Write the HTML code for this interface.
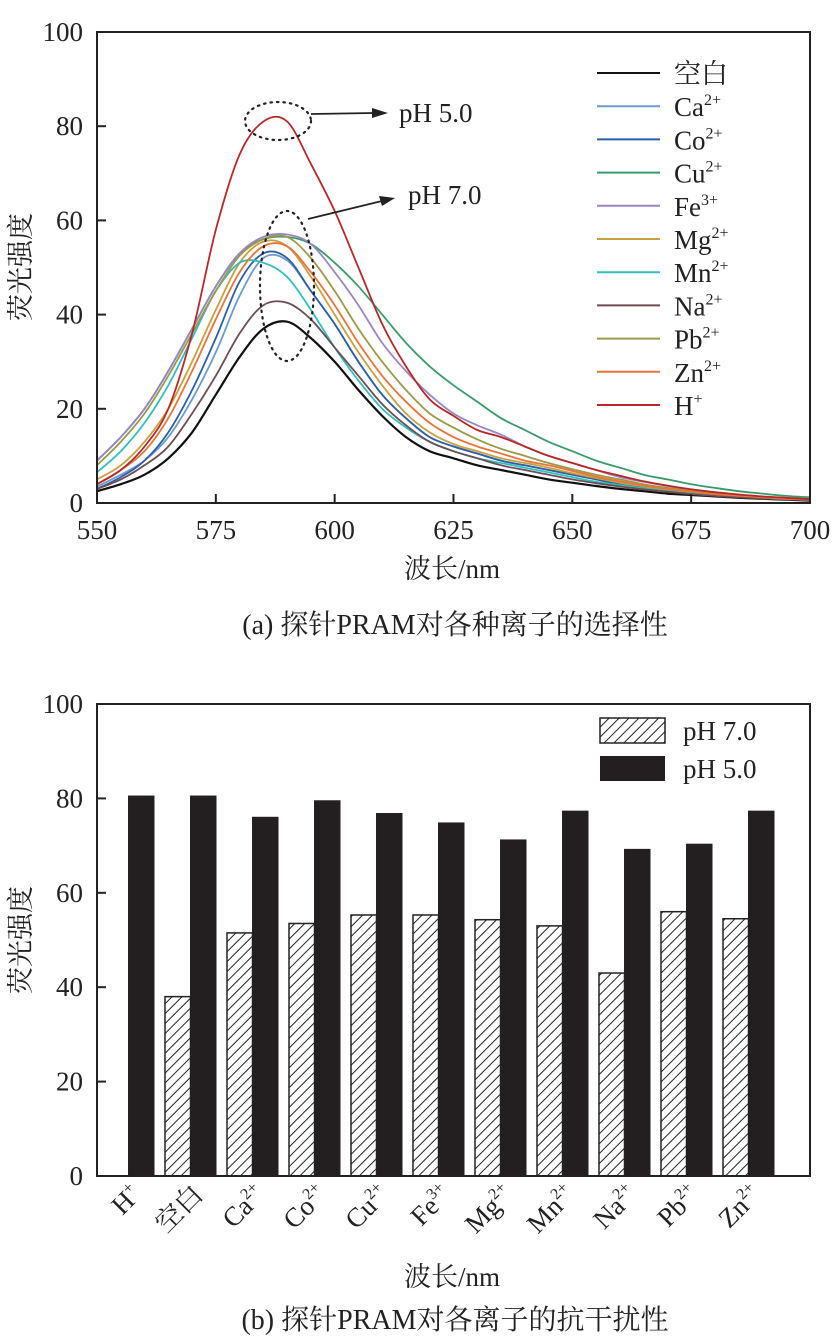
<!DOCTYPE html>
<html><head><meta charset="utf-8"><style>
html,body{margin:0;padding:0;background:#fff;}
svg{display:block;font-family:"Liberation Serif","Noto Serif CJK SC",serif;}
</style></head><body>
<svg id="s" width="836" height="1339" viewBox="0 0 836 1339" xmlns="http://www.w3.org/2000/svg">
<defs>
<pattern id="hatch" patternUnits="userSpaceOnUse" width="7" height="7" patternTransform="rotate(45)">
<rect width="7" height="7" fill="#fff"/><line x1="0" y1="0" x2="0" y2="7" stroke="#222" stroke-width="2"/>
</pattern>
</defs>
</svg>
<script>
const wav=[550,555,560,565,570,575,580,585,590,595,600,605,610,615,620,625,630,635,640,645,650,655,660,665,670,675,680,685,690,695,700];
const seriesNames=["空白","Ca","Co","Cu","Fe","Mg","Mn","Na","Pb","Zn","H"];
const sups=["","2+","2+","2+","3+","2+","2+","2+","2+","2+","+"];
const colors=["#111","#6a9ccc","#2c5fa8","#3a9a6a","#9a86c4","#c8a040","#2fbfc0","#6e4e52","#9a9a4a","#e8743a","#b82828"];
const sBlank=[2.5,4,6,9.5,15,23,31,37,38.5,35,30,24,18.5,14,11,9.5,8,7,6,5,4.3,3.6,3,2.5,2,1.7,1.4,1.1,0.9,0.7,0.5];
const sCa=[3.5,6,9,14,22,32,44,52,51.5,45,38,30,23,18,14,12,10.5,9,8,7,6,5,4,3.3,2.7,2.2,1.8,1.4,1.1,0.9,0.7];
const sCo=[3,5.5,9,15,24,35,47,53,52,45,38,30,23,18,14,12,10.5,9,8,7,6,5,4,3.3,2.7,2.2,1.8,1.4,1.1,0.9,0.7];
const sCu=[9,14,20,28,37,46,53,56,56.5,55,51,46,40,34,29,25,21.5,18,15.5,13,11,9,7.5,6,5,4,3.2,2.5,2,1.5,1.2];
const sFe=[9,14,20,28,37,46,53,56.5,57,55,49,42,34,28,23,19,16.5,14.5,12,10,8.5,7,5.5,4.5,3.6,2.8,2.2,1.7,1.3,1,0.8];
const sMg=[5,8,13,20,30,41,51,55.5,54.5,48,40,32,25,19,15,12.5,11,9.5,8.5,7.5,6.3,5.3,4.3,3.5,2.8,2.2,1.8,1.4,1.1,0.9,0.7];
const sMn=[6.5,11,17,25,35,45,51,51,48,41,33,26,20,16,13,11,9.5,8.5,7.5,6.5,5.5,4.5,3.8,3.1,2.5,2,1.6,1.3,1,0.8,0.6];
const sNa=[3,5,8,12,19,27,36,42,42.5,39,33,27,21,16.5,13,11,9.5,8,7,6,5,4.2,3.5,2.9,2.4,1.9,1.5,1.2,1,0.8,0.6];
const sPb=[8,13,19,27,36,45,52.5,56,56.5,52,45,37,30,24,19,16,13.5,11.5,10,8.5,7.2,6,5,4,3.2,2.6,2.1,1.6,1.3,1,0.8];
const sZn=[4,7,11,18,28,39,49,54.5,54.5,49,42,34,27,21.5,17,14,12,10.5,9,8,6.8,5.6,4.6,3.7,3,2.4,1.9,1.5,1.2,0.9,0.7];
const sH=[4,7,12,20,36,58,74,81,81,72,62,50,38,29,22,18.5,15.5,14,12,10,8.5,7,5.8,4.6,3.7,2.9,2.3,1.8,1.4,1.1,0.8];
const allSeries=[sBlank,sCa,sCo,sCu,sFe,sMg,sMn,sNa,sPb,sZn,sH];
const xTicks=[550,575,600,625,650,675,700];
const yTicks=[0,20,40,60,80,100];
const barCats=["H","空白","Ca","Co","Cu","Fe","Mg","Mn","Na","Pb","Zn"];
const barSups=["+","","2+","2+","2+","3+","2+","2+","2+","2+","2+"];
const ph7=[0,38,51.5,53.5,55.3,55.3,54.3,53,43,56,54.5];
const ph5=[80.5,80.5,76,79.5,76.8,74.8,71.2,77.3,69.2,70.3,77.3];

const NS="http://www.w3.org/2000/svg";
const svg=document.getElementById('s');
function mk(tag,attrs,parent,txt){const e=document.createElementNS(NS,tag);for(const k in attrs)e.setAttribute(k,attrs[k]);if(txt!==undefined)e.textContent=txt;(parent||svg).appendChild(e);return e;}
function smooth(P){let d='M'+P[0][0].toFixed(1)+','+P[0][1].toFixed(1);for(let i=0;i<P.length-1;i++){const p0=P[i-1]||P[i],p1=P[i],p2=P[i+1],p3=P[i+2]||p2;const c1=[p1[0]+(p2[0]-p0[0])/6,p1[1]+(p2[1]-p0[1])/6],c2=[p2[0]-(p3[0]-p1[0])/6,p2[1]-(p3[1]-p1[1])/6];d+='C'+c1.map(v=>v.toFixed(1))+' '+c2.map(v=>v.toFixed(1))+' '+p2.map(v=>v.toFixed(1));}return d;}
const L=97,R=810;
const FS=27;
// chart A
const aT=32,aB=503;
const ax=v=>L+(v-550)/150*(R-L);
const ay=v=>aB-v/100*(aB-aT);
const gA=mk('g',{});


allSeries.forEach((s,i)=>{
  const P=s.map((v,j)=>[ax(wav[j]),ay(v)]);
  const p=mk('path',{d:smooth(P),fill:'none',stroke:colors[i],'stroke-width':i==0?2.2:1.8,'stroke-linejoin':'round'},gA);
  
  
});
const frA=mk('rect',{x:L,y:aT,width:R-L,height:aB-aT,fill:'none',stroke:'#222','stroke-width':2},gA);


xTicks.forEach(t=>{
  mk('line',{x1:ax(t),x2:ax(t),y1:aB,y2:aB-9,stroke:'#222','stroke-width':2},gA);
  const tx=mk('text',{x:ax(t),y:aB+36,'text-anchor':'middle','font-size':FS,fill:'#222'},gA,t);
  
  
});
yTicks.forEach(t=>{
  mk('line',{x1:L,x2:L+9,y1:ay(t),y2:ay(t),stroke:'#222','stroke-width':2},gA);
  const tx=mk('text',{x:L-14,y:ay(t)+9,'text-anchor':'end','font-size':FS,fill:'#222'},gA,t);
  
  
});
seriesNames.forEach((n,i)=>{
  const y=73+i*33.2;
  const g=mk('g',{},gA);
  
  
  mk('line',{x1:597,x2:660,y1:y,y2:y,stroke:colors[i],'stroke-width':2},g);
  const t=mk('text',{x:674,y:y+10,'font-size':FS,fill:'#222'},g,n);
  if(sups[i]) mk('tspan',{'font-size':16,dy:-11},t,sups[i]);
});
const an=mk('g',{fill:'none',stroke:'#222','stroke-width':2.2,'stroke-dasharray':'1.5 5','stroke-linecap':'round'},gA);


mk('ellipse',{cx:278,cy:121,rx:33,ry:19},an);
mk('ellipse',{cx:287,cy:286,rx:27,ry:75},an);
mk('line',{x1:311,y1:114,x2:374,y2:113,stroke:'#222','stroke-width':1.8},gA);
mk('polygon',{points:'388,113 372,108 372,118',fill:'#222'},gA);
mk('line',{x1:308,y1:219,x2:382,y2:201,stroke:'#222','stroke-width':1.8},gA);
mk('polygon',{points:'395,198 379,196 382,206',fill:'#222'},gA);
mk('text',{x:399,y:122,'font-size':FS,fill:'#222'},gA,'pH 5.0');
mk('text',{x:408,y:204,'font-size':FS,fill:'#222'},gA,'pH 7.0');
const yla=mk('text',{x:0,y:0,'font-size':FS,fill:'#222','text-anchor':'middle',transform:'translate(30,267) rotate(-90)'},gA,'荧光强度');


const xla=mk('text',{x:452,y:578,'font-size':FS,fill:'#222','text-anchor':'middle'},gA,'波长/nm');


const ca=mk('text',{x:455,y:634,'font-size':28,fill:'#222','text-anchor':'middle'},gA,'(a) 探针PRAM对各种离子的选择性');



// chart B
const bT=704,bB=1176;
const by=v=>bB-v/100*(bB-bT);
const gB=mk('g',{});


const bw=25.5,step=62,c0=128.5;
barCats.forEach((c,i)=>{
  const cx=c0+i*step;
  if(ph7[i]>0){
    const r=mk('rect',{x:cx-bw,y:by(ph7[i]),width:bw,height:bB-by(ph7[i]),fill:'url(#hatch)',stroke:'#222','stroke-width':1.5},gB);
    
    
  }
  const r2=mk('rect',{x:cx,y:by(ph5[i]),width:bw,height:bB-by(ph5[i]),fill:'#231f20',stroke:'#222','stroke-width':1},gB);
  
  
  const t=mk('text',{x:0,y:0,'font-size':FS,fill:'#222','text-anchor':'end',transform:`translate(${cx+14},1196) rotate(-45)`},gB,c);
  if(barSups[i]) mk('tspan',{'font-size':16,dy:-11},t,barSups[i]);
  
  
});
const frB=mk('rect',{x:L,y:bT,width:R-L,height:bB-bT,fill:'none',stroke:'#222','stroke-width':2},gB);


yTicks.forEach(t=>{
  mk('line',{x1:L,x2:L+9,y1:by(t),y2:by(t),stroke:'#222','stroke-width':2},gB);
  const tx=mk('text',{x:L-14,y:by(t)+9,'text-anchor':'end','font-size':FS,fill:'#222'},gB,t);
  
  
});
const lg1=mk('g',{},gB);


mk('rect',{x:600,y:718,width:65,height:25,fill:'url(#hatch)',stroke:'#222','stroke-width':1.5},lg1);
mk('text',{x:683,y:740,'font-size':FS,fill:'#222'},lg1,'pH 7.0');
const lg2=mk('g',{},gB);


mk('rect',{x:600,y:756,width:65,height:25,fill:'#231f20'},lg2);
mk('text',{x:683,y:778,'font-size':FS,fill:'#222'},lg2,'pH 5.0');
const ylb=mk('text',{x:0,y:0,'font-size':FS,fill:'#222','text-anchor':'middle',transform:'translate(30,940) rotate(-90)'},gB,'荧光强度');


const xlb=mk('text',{x:452,y:1286,'font-size':FS,fill:'#222','text-anchor':'middle'},gB,'波长/nm');


const cb=mk('text',{x:455,y:1329,'font-size':28,fill:'#222','text-anchor':'middle'},gB,'(b) 探针PRAM对各离子的抗干扰性');


</script>
</body></html>
